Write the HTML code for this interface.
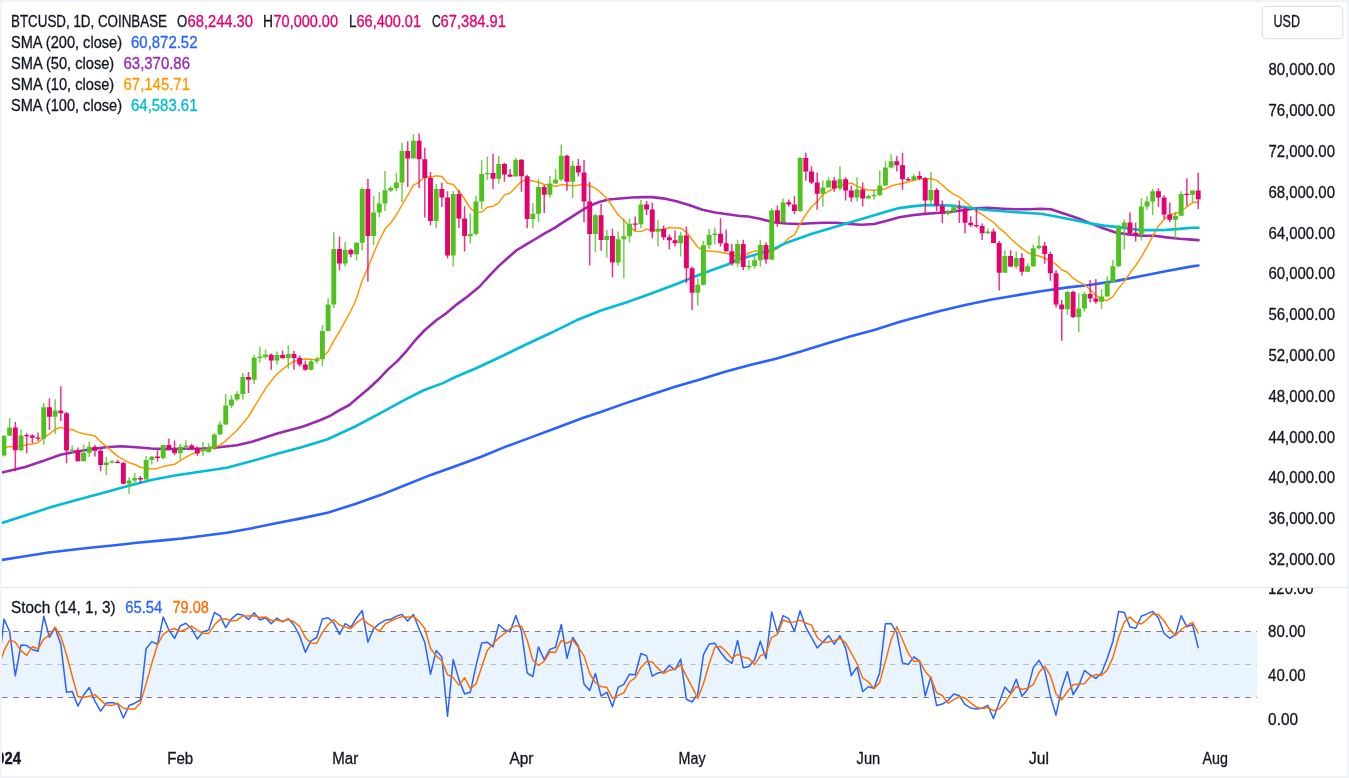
<!DOCTYPE html>
<html><head><meta charset="utf-8"><title>BTCUSD</title>
<style>
html,body{margin:0;padding:0;background:#fff;overflow:hidden}
#wrap{position:relative;width:1349px;height:778px;overflow:hidden;background:#fff;box-sizing:border-box;border:2px solid #f0f3fa}
#wrap svg{left:-2px!important;top:-2px!important}
</style></head><body><div id="wrap">
<svg width="1349" height="778" viewBox="0 0 1349 778" style="position:absolute;left:0;top:0">
<defs><clipPath id="c1"><rect x="2" y="2" width="1255" height="585"/></clipPath><clipPath id="c2"><rect x="2" y="588" width="1255" height="152"/></clipPath><clipPath id="c3"><rect x="2" y="740" width="1345" height="36"/></clipPath><clipPath id="c4"><rect x="1257" y="588" width="90" height="152"/></clipPath></defs>
<rect x="2" y="631.5" width="1255" height="66" fill="#e9f4fe"/>
<line x1="2" x2="1257" y1="631.5" y2="631.5" stroke="#787b86" stroke-width="1.1" stroke-dasharray="5.6 5.5"/>
<line x1="2" x2="1257" y1="664.5" y2="664.5" stroke="#b8bcc6" stroke-width="1.1" stroke-dasharray="5.6 5.5"/>
<line x1="2" x2="1257" y1="697.5" y2="697.5" stroke="#787b86" stroke-width="1.1" stroke-dasharray="5.6 5.5"/>
<rect x="2" y="587" width="1345" height="1" fill="#e0e3eb"/>
<polyline points="2.0,559.9 25.2,556.2 47.0,552.8 70.0,550.0 92.1,547.5 115.0,545.2 137.0,542.8 160.0,540.6 182.0,538.5 201.6,536.0 226.8,532.8 252.0,528.2 277.2,523.1 302.4,518.1 327.6,512.8 355.2,503.9 380.4,495.1 405.6,485.0 430.8,474.9 456.0,466.1 481.2,456.8 506.4,446.4 531.6,437.1 556.8,427.8 582.0,418.2 600.0,412.3 625.0,403.4 650.0,395.0 675.0,386.8 700.0,379.5 725.0,371.8 750.0,365.0 775.0,359.0 800.0,351.8 825.0,344.0 850.0,336.6 875.0,329.7 900.0,321.8 925.0,314.9 940.0,311.1 965.2,305.1 990.4,299.8 1015.6,295.5 1040.8,291.2 1066.0,287.6 1091.2,284.7 1116.4,280.9 1141.6,276.0 1166.8,271.0 1192.0,266.4 1198.5,265.5" fill="none" stroke="#2962ff" stroke-width="2.6" stroke-linejoin="round" stroke-linecap="round" clip-path="url(#c1)"/>
<polyline points="2.0,472.5 25.2,466.9 42.8,461.1 60.5,454.8 75.6,451.8 90.7,449.3 105.8,447.3 121.0,446.3 136.1,447.3 151.2,448.5 166.3,449.1 181.5,448.8 201.6,448.5 216.7,447.5 236.9,445.3 252.0,441.7 277.2,433.4 302.4,426.8 320.0,420.3 330.0,415.9 339.6,410.1 349.3,405.0 358.9,396.8 368.5,388.8 378.2,379.8 387.8,369.6 397.5,360.9 407.1,350.3 414.8,340.7 424.4,330.5 436.0,320.5 445.6,313.7 457.2,304.1 468.8,295.5 479.6,286.5 489.3,275.8 498.9,265.9 508.5,257.3 516.3,250.5 525.9,244.7 535.5,239.0 545.2,233.2 554.8,227.8 562.5,222.6 570.2,217.8 577.9,212.9 585.6,208.1 593.3,204.3 601.0,201.4 608.8,199.5 620.3,198.5 631.9,197.5 643.4,197.1 652.0,197.1 664.6,198.6 677.2,201.4 689.8,205.2 702.4,209.7 715.0,212.5 727.6,214.3 740.0,216.0 748.2,216.5 760.8,219.0 773.4,222.3 786.0,223.5 798.6,224.0 811.2,223.3 823.8,222.8 836.4,222.8 849.0,224.0 861.6,224.8 874.2,224.0 886.8,220.7 899.4,217.2 912.0,215.2 924.6,213.9 937.2,213.0 949.8,212.0 962.4,210.2 975.0,208.4 987.6,207.8 1003.0,208.7 1015.6,209.2 1028.2,209.2 1040.8,208.7 1050.9,209.2 1066.0,214.3 1078.6,218.5 1091.2,223.6 1103.8,228.6 1116.4,232.7 1129.0,234.4 1141.6,235.7 1154.2,235.7 1166.8,237.4 1179.4,238.7 1192.0,239.6 1198.5,240.1" fill="none" stroke="#9c27b0" stroke-width="2.6" stroke-linejoin="round" stroke-linecap="round" clip-path="url(#c1)"/>
<polyline points="-1.7,448.3 4.0,447.7 9.6,446.5 15.3,446.8 21.0,446.2 26.7,444.6 32.4,444.1 38.1,442.8 43.8,437.8 49.4,433.9 55.1,429.5 60.8,427.3 66.5,429.5 72.2,429.5 77.9,432.1 83.6,433.8 89.3,434.7 94.9,435.9 100.6,441.7 106.3,446.3 112.0,451.4 117.7,456.4 123.4,459.7 129.1,462.8 134.8,464.5 140.4,467.2 146.1,468.5 151.8,469.1 157.5,468.4 163.2,466.6 168.9,465.3 174.6,464.3 180.2,460.6 185.9,457.1 191.6,454.2 197.3,451.5 203.0,450.5 208.7,449.6 214.4,447.2 220.1,445.2 225.7,440.9 231.4,435.5 237.1,430.2 242.8,423.4 248.5,416.5 254.2,407.0 259.9,397.7 265.6,388.4 271.2,381.0 276.9,374.1 282.6,369.3 288.3,364.8 294.0,361.2 299.7,359.9 305.4,358.9 311.0,359.3 316.7,359.5 322.4,357.1 328.1,351.5 333.8,340.9 339.5,331.5 345.2,321.1 350.9,310.7 356.5,298.5 362.2,280.5 367.9,267.9 373.6,253.3 379.3,240.5 385.0,229.1 390.7,223.0 396.4,214.9 402.0,205.0 407.7,195.4 413.4,185.2 419.1,182.3 424.8,176.4 430.5,177.3 436.2,175.8 441.8,176.6 447.5,183.3 453.2,184.4 458.9,191.2 464.6,199.0 470.3,208.3 476.0,212.5 481.7,212.1 487.3,207.3 493.0,206.3 498.7,202.9 504.4,194.9 510.1,193.1 515.8,187.2 521.5,181.3 527.2,179.8 532.8,181.0 538.5,182.3 544.2,184.5 549.9,184.9 555.6,186.5 561.3,184.6 567.0,185.1 572.7,185.7 578.3,185.3 584.0,183.6 589.7,185.6 595.4,188.4 601.1,193.0 606.8,198.2 612.5,206.5 618.1,214.8 623.8,220.3 629.5,226.1 635.2,231.3 640.9,231.6 646.6,229.1 652.3,230.8 658.0,229.6 663.6,229.7 669.3,227.5 675.0,227.9 680.7,227.9 686.4,232.3 692.1,239.2 697.8,247.2 703.5,250.8 709.1,251.1 714.8,251.6 720.5,252.2 726.2,253.3 731.9,255.3 737.6,256.1 743.3,256.0 748.9,253.3 754.6,250.9 760.3,250.9 766.0,253.3 771.7,251.0 777.4,248.9 783.1,244.0 788.8,238.1 794.4,234.8 800.1,223.9 805.8,214.5 811.5,206.7 817.2,201.6 822.9,194.4 828.6,191.4 834.3,188.0 839.9,185.7 845.6,184.3 851.3,183.0 857.0,186.1 862.7,188.8 868.4,190.1 874.1,190.3 879.7,190.1 885.4,188.8 891.1,186.1 896.8,184.6 902.5,183.5 908.2,181.8 913.9,180.5 919.6,178.4 925.2,178.9 930.9,178.4 936.6,180.4 942.3,185.0 948.0,190.1 953.7,194.3 959.4,197.2 965.1,201.5 970.7,206.4 976.4,211.1 982.1,214.4 987.8,218.5 993.5,222.3 999.2,228.2 1004.9,232.6 1010.5,238.5 1016.2,243.5 1021.9,248.4 1027.6,252.5 1033.3,254.7 1039.0,256.0 1044.7,258.2 1050.4,261.2 1056.0,264.4 1061.7,269.7 1067.4,272.3 1073.1,278.2 1078.8,281.9 1084.5,284.7 1090.2,289.7 1095.9,295.3 1101.5,299.5 1107.2,300.4 1112.9,296.6 1118.6,288.4 1124.3,281.4 1130.0,273.0 1135.7,265.5 1141.4,256.8 1147.0,247.1 1152.7,236.1 1158.4,226.2 1164.1,219.4 1169.8,214.8 1175.5,213.6 1181.2,210.8 1186.8,207.0 1192.5,202.6 1198.2,201.9" fill="none" stroke="#ff9800" stroke-width="1.5" stroke-linejoin="round" stroke-linecap="round" clip-path="url(#c1)"/>
<polyline points="2.0,522.9 25.2,515.6 50.4,507.3 75.6,500.2 100.8,493.4 126.0,486.4 151.2,480.0 176.4,475.3 201.6,471.5 226.8,467.7 252.0,461.1 277.2,453.8 302.4,447.0 327.6,439.2 340.0,433.5 355.2,426.5 380.4,413.2 405.6,399.3 423.2,390.5 443.4,382.9 455.4,377.0 475.6,368.5 500.8,356.8 526.0,344.5 551.2,332.8 576.4,320.3 601.6,310.2 626.8,302.2 652.0,293.2 677.2,283.8 702.4,273.5 727.6,264.5 735.6,260.6 760.8,253.0 773.4,249.2 786.0,242.9 811.2,234.1 836.4,226.5 861.6,219.0 886.8,211.4 899.4,208.1 912.0,206.4 924.6,205.1 937.2,205.1 949.8,205.5 962.4,206.8 975.0,208.6 987.6,210.0 1003.0,211.2 1015.6,212.2 1028.2,213.0 1040.8,213.8 1053.4,216.0 1066.0,218.5 1078.6,221.1 1091.2,223.6 1103.8,225.6 1116.4,226.9 1129.0,228.6 1141.6,230.1 1154.2,230.1 1166.8,229.9 1179.4,228.9 1192.0,227.8 1198.5,227.7" fill="none" stroke="#00bcd4" stroke-width="2.6" stroke-linejoin="round" stroke-linecap="round" clip-path="url(#c1)"/>
<g clip-path="url(#c1)">
<path d="M3.95 435.5V456.4M9.64 418.3V435.8M21.01 429.4V451.3M43.76 403.1V444.8M55.13 399.3V434.0M72.19 445.6V453.3M83.57 444.5V461.3M89.26 441.4V457.1M106.32 456.7V475.3M112.00 459.9V463.6M129.06 477.2V493.7M134.75 473.0V484.1M146.12 455.9V479.5M151.81 455.9V464.5M163.19 444.8V459.0M180.25 444.1V459.5M185.93 440.3V450.3M203.00 442.1V455.7M208.68 443.3V452.3M214.37 433.3V450.3M220.06 421.3V434.9M225.74 394.0V424.8M231.43 395.2V407.9M237.12 391.2V400.9M242.80 372.9V399.8M254.18 354.7V384.0M259.87 346.5V362.8M265.55 349.6V359.3M276.93 351.6V364.7M288.30 345.4V368.8M311.05 359.3V370.5M316.74 357.0V363.4M322.42 325.1V366.5M328.11 298.3V331.0M333.80 232.2V307.9M345.17 241.9V266.5M356.54 241.9V260.4M362.23 187.5V250.5M373.61 196.0V245.4M379.29 192.1V217.2M384.98 171.0V211.1M390.67 185.9V192.1M396.35 172.8V191.0M402.04 142.7V202.1M413.41 134.3V158.6M436.16 183.9V228.3M453.22 191.3V266.5M470.28 213.2V243.4M475.97 196.0V235.3M481.66 160.2V209.1M487.35 156.6V179.8M498.72 155.8V183.6M515.78 157.8V176.6M532.84 203.2V228.3M538.53 179.0V222.2M549.90 175.9V197.9M555.59 168.9V184.1M561.28 144.6V181.3M572.65 160.9V197.9M595.40 214.0V252.2M606.77 229.7V257.5M618.15 231.6V265.5M623.83 218.5V278.6M629.52 218.5V242.4M640.89 200.1V228.3M657.96 220.2V246.4M680.70 231.8V256.4M697.76 278.6V305.6M703.45 240.8V285.6M709.14 228.7V248.7M714.83 227.6V244.4M737.57 239.8V267.5M748.95 260.3V270.0M754.63 255.7V268.8M760.32 239.8V266.5M771.70 208.3V260.3M783.07 198.6V222.3M800.13 156.9V211.7M822.88 180.4V206.6M828.57 177.3V187.5M839.94 166.2V190.6M857.00 177.3V201.4M868.37 194.3V198.6M874.06 189.7V199.8M879.75 170.5V196.3M885.44 161.3V186.3M891.12 154.2V168.5M913.87 174.2V180.4M930.93 172.1V204.0M947.99 209.4V215.3M953.68 204.5V212.5M987.80 228.6V234.0M1004.86 250.2V272.8M1016.24 251.4V268.7M1027.61 263.3V271.8M1033.30 244.8V267.1M1038.98 235.5V249.4M1067.42 290.4V314.8M1078.79 293.2V332.1M1084.48 292.0V311.7M1101.54 289.3V308.9M1107.23 276.2V296.6M1112.92 260.0V282.7M1118.60 224.8V267.2M1124.29 219.4V249.5M1141.35 198.3V240.5M1147.04 196.2V210.1M1152.72 189.0V215.2M1175.47 211.7V239.4M1181.16 191.3V215.8M1192.53 190.4V202.4" stroke="#50c21e" stroke-width="1.5" stroke-opacity="0.8" fill="none"/>
<path d="M1.50 435.7h4.9V455.6h-4.9zM7.19 427.5h4.9V435.7h-4.9zM18.56 435.4h4.9V450.3h-4.9zM41.31 407.3h4.9V438.5h-4.9zM52.68 410.4h4.9V416.7h-4.9zM69.74 449.5h4.9V450.8h-4.9zM81.12 452.7h4.9V461.3h-4.9zM86.81 446.8h4.9V452.7h-4.9zM103.87 462.4h4.9V465.1h-4.9zM109.55 461.5h4.9V462.8h-4.9zM126.61 480.4h4.9V483.7h-4.9zM132.30 478.1h4.9V480.4h-4.9zM143.68 460.1h4.9V479.5h-4.9zM149.36 456.7h4.9V460.1h-4.9zM160.74 444.9h4.9V457.9h-4.9zM177.80 446.8h4.9V453.1h-4.9zM183.48 445.4h4.9V446.9h-4.9zM200.55 449.6h4.9V450.9h-4.9zM206.23 447.0h4.9V452.3h-4.9zM211.92 434.6h4.9V447.0h-4.9zM217.61 424.6h4.9V434.6h-4.9zM223.29 405.6h4.9V424.6h-4.9zM228.98 399.6h4.9V405.6h-4.9zM234.67 394.0h4.9V399.6h-4.9zM240.35 377.0h4.9V394.0h-4.9zM251.73 357.7h4.9V379.7h-4.9zM257.42 356.6h4.9V357.9h-4.9zM263.10 354.6h4.9V356.9h-4.9zM274.48 355.0h4.9V360.5h-4.9zM285.85 354.0h4.9V358.2h-4.9zM308.60 361.2h4.9V369.7h-4.9zM314.29 359.2h4.9V361.3h-4.9zM319.97 330.9h4.9V359.3h-4.9zM325.66 304.6h4.9V330.9h-4.9zM331.35 248.9h4.9V304.6h-4.9zM342.72 250.0h4.9V263.4h-4.9zM354.09 242.8h4.9V254.3h-4.9zM359.78 189.0h4.9V242.8h-4.9zM371.16 212.4h4.9V236.1h-4.9zM376.84 203.4h4.9V212.4h-4.9zM382.53 190.3h4.9V203.4h-4.9zM388.22 188.1h4.9V190.4h-4.9zM393.90 182.5h4.9V188.2h-4.9zM399.59 150.9h4.9V182.5h-4.9zM410.96 140.7h4.9V158.6h-4.9zM433.71 189.0h4.9V220.9h-4.9zM450.77 194.1h4.9V255.4h-4.9zM467.83 233.9h4.9V236.2h-4.9zM473.52 201.5h4.9V234.0h-4.9zM479.21 174.1h4.9V201.5h-4.9zM484.90 172.9h4.9V174.2h-4.9zM496.27 164.0h4.9V178.7h-4.9zM513.33 159.8h4.9V176.6h-4.9zM530.39 213.7h4.9V219.1h-4.9zM536.08 187.1h4.9V213.7h-4.9zM547.45 183.4h4.9V194.8h-4.9zM553.14 179.5h4.9V183.4h-4.9zM558.83 155.8h4.9V179.5h-4.9zM570.20 165.8h4.9V181.7h-4.9zM592.95 215.2h4.9V234.0h-4.9zM604.32 235.9h4.9V240.1h-4.9zM615.70 239.2h4.9V262.4h-4.9zM621.38 236.2h4.9V239.2h-4.9zM627.07 223.7h4.9V236.2h-4.9zM638.44 204.4h4.9V224.3h-4.9zM655.50 228.7h4.9V231.8h-4.9zM678.25 235.6h4.9V243.3h-4.9zM695.31 284.7h4.9V292.8h-4.9zM701.00 245.2h4.9V284.7h-4.9zM706.69 234.7h4.9V245.2h-4.9zM712.38 233.6h4.9V234.9h-4.9zM735.12 244.1h4.9V263.4h-4.9zM746.50 265.9h4.9V267.2h-4.9zM752.18 260.3h4.9V266.1h-4.9zM757.87 244.9h4.9V260.3h-4.9zM769.25 210.3h4.9V259.4h-4.9zM780.62 202.4h4.9V222.3h-4.9zM797.68 158.0h4.9V210.9h-4.9zM820.43 187.5h4.9V193.8h-4.9zM826.12 180.4h4.9V187.5h-4.9zM837.49 179.3h4.9V188.6h-4.9zM854.55 189.4h4.9V197.5h-4.9zM865.92 195.9h4.9V198.6h-4.9zM871.61 194.9h4.9V196.2h-4.9zM877.30 185.5h4.9V195.1h-4.9zM882.99 167.5h4.9V185.5h-4.9zM888.67 161.3h4.9V167.5h-4.9zM911.42 176.2h4.9V180.0h-4.9zM928.48 190.1h4.9V200.6h-4.9zM945.54 211.5h4.9V213.8h-4.9zM951.23 207.3h4.9V211.5h-4.9zM985.35 231.5h4.9V233.3h-4.9zM1002.41 256.0h4.9V272.8h-4.9zM1013.79 257.9h4.9V266.4h-4.9zM1025.16 266.3h4.9V271.8h-4.9zM1030.85 248.2h4.9V266.3h-4.9zM1036.53 245.8h4.9V248.2h-4.9zM1064.97 292.1h4.9V309.3h-4.9zM1076.34 308.5h4.9V317.1h-4.9zM1082.03 294.0h4.9V308.5h-4.9zM1099.09 296.4h4.9V301.7h-4.9zM1104.78 282.4h4.9V296.4h-4.9zM1110.47 266.2h4.9V282.4h-4.9zM1116.15 226.9h4.9V266.2h-4.9zM1121.84 222.5h4.9V226.9h-4.9zM1138.90 206.4h4.9V234.2h-4.9zM1144.59 201.5h4.9V206.4h-4.9zM1150.27 191.3h4.9V201.5h-4.9zM1173.02 215.7h4.9V219.8h-4.9zM1178.71 194.1h4.9V215.7h-4.9zM1190.08 190.4h4.9V194.7h-4.9z" fill="#50c21e"/>
<path d="M15.32 422.0V471.3M26.70 433.2V453.3M32.39 434.3V443.2M38.07 432.4V440.9M49.45 398.2V430.1M60.82 386.2V420.9M66.51 412.1V463.3M77.88 447.6V461.3M94.94 445.1V456.4M100.63 448.6V471.3M117.69 459.9V463.3M123.38 461.8V484.6M140.44 475.9V483.3M157.50 450.2V461.4M168.87 438.6V449.7M174.56 440.5V455.3M191.62 444.1V449.5M197.31 446.4V455.7M248.49 371.9V392.9M271.24 353.6V369.8M282.61 350.5V358.5M293.99 351.1V369.8M299.67 355.4V366.5M305.36 360.8V370.8M339.48 236.4V270.5M350.86 248.5V257.3M367.92 179.0V281.6M407.73 141.2V187.0M419.10 133.5V188.2M424.79 147.8V217.5M430.48 172.0V225.6M441.85 182.8V207.1M447.54 191.3V258.5M458.91 190.1V228.0M464.60 206.3V251.6M493.03 153.8V189.0M504.41 162.8V181.7M510.09 168.9V176.7M521.47 158.9V191.8M527.15 174.8V228.3M544.22 185.1V212.9M566.96 154.7V190.8M578.34 158.9V176.6M584.02 160.0V222.2M589.71 182.0V265.5M601.09 204.1V250.7M612.46 228.8V277.6M635.21 216.5V230.8M646.58 201.0V214.9M652.27 202.4V238.2M663.64 225.6V240.2M669.33 234.5V249.5M675.02 230.5V246.4M686.39 226.4V283.3M692.08 266.8V310.0M720.51 218.3V246.4M726.20 229.4V251.5M731.89 244.1V265.7M743.26 239.8V270.0M766.01 242.5V263.8M777.38 205.5V227.1M788.76 199.4V206.8M794.44 196.3V214.0M805.82 152.8V180.8M811.50 166.2V183.9M817.19 172.4V209.8M834.25 177.3V191.7M845.63 177.3V200.5M851.31 185.5V201.7M862.69 182.4V206.6M896.81 156.2V171.6M902.50 153.1V189.7M908.18 177.0V180.9M919.56 171.3V180.4M925.24 177.0V213.3M936.62 188.1V211.0M942.31 200.5V223.3M959.37 200.5V223.0M965.05 207.1V233.3M970.74 216.2V227.0M976.43 208.5V227.8M982.11 223.6V240.1M993.49 228.6V243.2M999.18 240.9V290.6M1010.55 250.2V267.1M1021.92 253.2V275.6M1044.67 241.7V263.7M1050.36 251.7V280.7M1056.05 270.2V307.5M1061.73 300.1V340.7M1073.11 290.4V317.9M1090.17 280.1V302.4M1095.85 279.0V303.7M1129.98 212.4V234.8M1135.66 222.5V241.4M1158.41 188.2V207.0M1164.10 195.2V218.9M1169.79 202.4V222.0M1186.85 178.2V206.3M1198.22 172.7V209.3" stroke="#e6006e" stroke-width="1.5" stroke-opacity="0.8" fill="none"/>
<path d="M12.87 427.5h4.9V450.3h-4.9zM24.25 434.9h4.9V436.2h-4.9zM29.94 435.5h4.9V437.8h-4.9zM35.62 437.4h4.9V438.7h-4.9zM47.00 407.3h4.9V416.7h-4.9zM58.37 410.4h4.9V413.2h-4.9zM64.06 413.2h4.9V450.4h-4.9zM75.43 449.9h4.9V461.3h-4.9zM92.49 446.8h4.9V450.7h-4.9zM98.18 450.7h4.9V465.1h-4.9zM115.24 461.8h4.9V463.1h-4.9zM120.93 463.1h4.9V483.7h-4.9zM137.99 478.0h4.9V479.6h-4.9zM155.05 456.6h4.9V457.9h-4.9zM166.42 444.9h4.9V448.9h-4.9zM172.11 448.9h4.9V453.1h-4.9zM189.17 445.5h4.9V448.2h-4.9zM194.86 448.2h4.9V453.4h-4.9zM246.04 377.0h4.9V379.7h-4.9zM268.79 354.7h4.9V360.5h-4.9zM280.16 355.0h4.9V358.2h-4.9zM291.54 354.0h4.9V358.0h-4.9zM297.22 358.0h4.9V364.4h-4.9zM302.91 364.4h4.9V369.7h-4.9zM337.03 248.9h4.9V263.4h-4.9zM348.41 250.0h4.9V254.3h-4.9zM365.47 189.0h4.9V236.1h-4.9zM405.28 150.9h4.9V158.6h-4.9zM416.65 140.7h4.9V159.3h-4.9zM422.34 159.3h4.9V177.9h-4.9zM428.03 177.9h4.9V220.9h-4.9zM439.40 189.0h4.9V197.5h-4.9zM445.09 197.5h4.9V255.4h-4.9zM456.46 194.1h4.9V218.6h-4.9zM462.15 218.6h4.9V236.1h-4.9zM490.58 173.1h4.9V178.7h-4.9zM501.96 164.0h4.9V174.5h-4.9zM507.64 174.4h4.9V176.7h-4.9zM519.02 159.8h4.9V176.3h-4.9zM524.70 176.3h4.9V219.1h-4.9zM541.76 187.1h4.9V194.8h-4.9zM564.51 155.8h4.9V181.7h-4.9zM575.89 165.8h4.9V172.4h-4.9zM581.57 172.4h4.9V201.6h-4.9zM587.26 201.6h4.9V234.0h-4.9zM598.63 215.2h4.9V240.1h-4.9zM610.01 235.9h4.9V262.4h-4.9zM632.76 223.4h4.9V224.7h-4.9zM644.13 204.4h4.9V209.6h-4.9zM649.82 209.6h4.9V231.8h-4.9zM661.19 228.7h4.9V237.2h-4.9zM666.88 237.2h4.9V240.2h-4.9zM672.57 240.2h4.9V243.3h-4.9zM683.94 235.6h4.9V268.3h-4.9zM689.63 268.3h4.9V292.8h-4.9zM718.06 233.8h4.9V243.2h-4.9zM723.75 243.2h4.9V251.3h-4.9zM729.44 251.3h4.9V263.4h-4.9zM740.81 244.1h4.9V267.0h-4.9zM763.56 244.9h4.9V259.4h-4.9zM774.93 210.3h4.9V222.3h-4.9zM786.31 202.3h4.9V204.6h-4.9zM791.99 204.5h4.9V210.9h-4.9zM803.37 158.0h4.9V171.4h-4.9zM809.05 171.4h4.9V182.6h-4.9zM814.74 182.6h4.9V193.8h-4.9zM831.80 180.4h4.9V188.6h-4.9zM843.18 179.3h4.9V190.4h-4.9zM848.86 190.4h4.9V197.5h-4.9zM860.24 189.4h4.9V198.6h-4.9zM894.36 161.3h4.9V165.2h-4.9zM900.05 165.2h4.9V179.2h-4.9zM905.73 178.9h4.9V180.2h-4.9zM917.11 176.1h4.9V178.4h-4.9zM922.79 178.3h4.9V200.6h-4.9zM934.17 190.1h4.9V205.8h-4.9zM939.86 205.8h4.9V213.7h-4.9zM956.92 207.2h4.9V208.5h-4.9zM962.60 208.4h4.9V222.8h-4.9zM968.29 222.8h4.9V225.2h-4.9zM973.98 224.9h4.9V226.2h-4.9zM979.66 226.0h4.9V233.3h-4.9zM991.04 231.5h4.9V243.0h-4.9zM996.73 243.0h4.9V272.8h-4.9zM1008.10 256.0h4.9V266.4h-4.9zM1019.47 257.9h4.9V271.8h-4.9zM1042.22 245.8h4.9V254.0h-4.9zM1047.91 254.0h4.9V273.2h-4.9zM1053.60 273.2h4.9V304.6h-4.9zM1059.28 304.6h4.9V309.3h-4.9zM1070.66 292.1h4.9V317.1h-4.9zM1087.72 294.0h4.9V298.4h-4.9zM1093.40 298.4h4.9V301.7h-4.9zM1127.53 222.5h4.9V232.9h-4.9zM1133.21 232.8h4.9V234.3h-4.9zM1155.96 191.3h4.9V197.6h-4.9zM1161.65 197.6h4.9V214.5h-4.9zM1167.34 214.5h4.9V219.8h-4.9zM1184.40 193.7h4.9V195.0h-4.9zM1195.77 190.5h4.9V199.3h-4.9z" fill="#e6006e"/>
</g>
<polyline points="-1.5,669.4 4.0,619.1 9.6,631.5 15.3,675.8 21.0,644.9 26.7,645.6 32.4,649.5 38.1,651.3 43.8,616.3 49.4,637.3 55.1,627.9 60.8,644.3 66.5,692.2 72.2,691.5 77.9,706.1 83.6,695.0 89.3,687.5 94.9,701.2 100.6,711.1 106.3,703.1 112.0,702.5 117.7,704.0 123.4,718.0 129.1,705.5 134.8,703.2 140.4,700.0 146.1,648.7 151.8,641.6 157.5,644.2 163.2,617.1 168.9,630.0 174.6,638.4 180.2,625.9 185.9,623.3 191.6,628.7 197.3,639.0 203.0,631.9 208.7,629.9 214.4,612.5 220.1,615.9 225.7,627.6 231.4,618.8 237.1,614.1 242.8,614.9 248.5,619.4 254.2,612.8 259.9,620.0 265.6,617.8 271.2,623.7 276.9,618.1 282.6,621.8 288.3,618.7 294.0,625.0 299.7,635.9 305.4,652.2 311.0,640.8 316.7,637.5 322.4,618.9 328.1,617.7 333.8,622.9 339.5,634.3 345.2,623.7 350.9,627.1 356.5,618.0 362.2,610.5 367.9,642.2 373.6,628.7 379.3,623.6 385.0,620.3 390.7,619.3 396.4,616.1 402.0,614.4 407.7,621.1 413.4,614.5 419.1,628.7 424.8,642.4 430.5,674.2 436.2,650.6 441.8,656.9 447.5,716.3 453.2,659.5 458.9,679.6 464.6,694.0 470.3,692.3 476.0,665.6 481.7,643.0 487.3,642.2 493.0,646.8 498.7,624.5 504.4,629.7 510.1,631.8 515.8,615.5 521.5,631.4 527.2,673.0 532.8,676.6 538.5,646.9 544.2,659.7 549.9,649.4 555.6,647.3 561.3,624.4 567.0,658.2 572.7,637.4 578.3,646.0 584.0,684.1 589.7,690.5 595.4,673.5 601.1,696.1 606.8,692.2 612.5,706.6 618.1,687.4 623.8,684.4 629.5,674.2 635.2,674.7 640.9,653.5 646.6,655.9 652.3,676.2 658.0,672.9 663.6,672.0 669.3,665.5 675.0,669.8 680.7,659.1 686.4,699.3 692.1,702.0 697.8,693.9 703.5,654.6 709.1,644.1 714.8,643.2 720.5,652.0 726.2,659.3 731.9,663.4 737.6,640.4 743.3,667.7 748.9,666.6 754.6,659.7 760.3,641.3 766.0,658.6 771.7,611.9 777.4,632.6 783.1,615.6 788.8,618.7 794.4,631.4 800.1,610.7 805.8,627.1 811.5,637.5 817.2,647.9 822.9,642.0 828.6,635.7 834.3,644.1 839.9,635.8 845.6,647.9 851.3,675.5 857.0,667.2 862.7,691.5 868.4,686.7 874.1,688.3 879.7,672.4 885.4,623.7 891.1,623.6 896.8,632.6 902.5,662.9 908.2,664.5 913.9,656.9 919.6,661.2 925.2,696.0 930.9,676.9 936.6,705.4 942.3,704.1 948.0,700.6 953.7,694.0 959.4,695.8 965.1,704.6 970.7,707.9 976.4,709.0 982.1,708.2 987.8,705.3 993.5,718.6 999.2,702.6 1004.9,687.1 1010.5,693.2 1016.2,679.3 1021.9,696.2 1027.6,689.5 1033.3,667.6 1039.0,660.4 1044.7,670.3 1050.4,695.9 1056.0,715.2 1061.7,688.4 1067.4,671.6 1073.1,694.5 1078.8,685.5 1084.5,670.4 1090.2,675.0 1095.9,678.4 1101.5,673.0 1107.2,658.4 1112.9,641.5 1118.6,611.6 1124.3,612.4 1130.0,627.1 1135.7,628.2 1141.4,616.3 1147.0,613.9 1152.7,611.4 1158.4,617.9 1164.1,633.5 1169.8,638.3 1175.5,634.5 1181.2,615.6 1186.8,626.9 1192.5,624.6 1198.2,647.5" fill="none" stroke="#2962ff" stroke-width="1.5" stroke-linejoin="round" stroke-linecap="round" clip-path="url(#c2)"/>
<polyline points="-1.5,667.6 4.0,650.8 9.6,640.0 15.3,642.1 21.0,650.7 26.7,655.4 32.4,646.7 38.1,648.8 43.8,639.1 49.4,635.0 55.1,627.2 60.8,636.5 66.5,654.8 72.2,676.0 77.9,696.6 83.6,697.5 89.3,696.2 94.9,694.6 100.6,699.9 106.3,705.1 112.0,705.6 117.7,703.2 123.4,708.2 129.1,709.1 134.8,708.9 140.4,702.9 146.1,683.9 151.8,663.4 157.5,644.8 163.2,634.3 168.9,630.4 174.6,628.5 180.2,631.5 185.9,629.2 191.6,626.0 197.3,630.3 203.0,633.2 208.7,633.6 214.4,624.8 220.1,619.4 225.7,618.7 231.4,620.7 237.1,620.2 242.8,615.9 248.5,616.1 254.2,615.7 259.9,617.4 265.6,616.9 271.2,620.5 276.9,619.9 282.6,621.2 288.3,619.5 294.0,621.8 299.7,626.5 305.4,637.7 311.0,642.9 316.7,643.5 322.4,632.4 328.1,624.7 333.8,619.8 339.5,625.0 345.2,627.0 350.9,628.4 356.5,622.9 362.2,618.6 367.9,623.6 373.6,627.1 379.3,631.5 385.0,624.2 390.7,621.0 396.4,618.5 402.0,616.6 407.7,617.2 413.4,616.6 419.1,621.4 424.8,628.5 430.5,648.5 436.2,655.8 441.8,660.6 447.5,674.6 453.2,677.6 458.9,685.1 464.6,677.7 470.3,688.6 476.0,683.9 481.7,666.9 487.3,650.3 493.0,644.0 498.7,637.9 504.4,633.7 510.1,628.7 515.8,625.7 521.5,626.2 527.2,640.0 532.8,660.3 538.5,665.5 544.2,661.1 549.9,652.0 555.6,652.2 561.3,640.4 567.0,643.3 572.7,640.0 578.3,647.2 584.0,655.8 589.7,673.5 595.4,682.7 601.1,686.7 606.8,687.3 612.5,698.3 618.1,695.4 623.8,692.8 629.5,682.0 635.2,677.8 640.9,667.5 646.6,661.4 652.3,661.9 658.0,668.4 663.6,673.7 669.3,670.2 675.0,669.1 680.7,664.8 686.4,676.1 692.1,686.8 697.8,698.4 703.5,683.5 709.1,664.2 714.8,647.3 720.5,646.4 726.2,651.5 731.9,658.2 737.6,654.4 743.3,657.2 748.9,658.3 754.6,664.7 760.3,655.9 766.0,653.2 771.7,637.3 777.4,634.4 783.1,620.0 788.8,622.3 794.4,621.9 800.1,620.3 805.8,623.0 811.5,625.1 817.2,637.5 822.9,642.5 828.6,641.9 834.3,640.6 839.9,638.5 845.6,642.6 851.3,653.1 857.0,663.5 862.7,678.0 868.4,681.8 874.1,688.8 879.7,682.4 885.4,661.4 891.1,639.9 896.8,626.7 902.5,639.7 908.2,653.3 913.9,661.4 919.6,660.9 925.2,671.4 930.9,678.0 936.6,692.8 942.3,695.5 948.0,703.4 953.7,699.6 959.4,696.8 965.1,698.1 970.7,702.8 976.4,707.2 982.1,708.4 987.8,707.5 993.5,710.7 999.2,708.9 1004.9,702.8 1010.5,694.3 1016.2,686.5 1021.9,689.5 1027.6,688.3 1033.3,684.4 1039.0,672.5 1044.7,666.1 1050.4,675.5 1056.0,693.8 1061.7,699.8 1067.4,691.7 1073.1,684.8 1078.8,683.9 1084.5,683.5 1090.2,677.0 1095.9,674.6 1101.5,675.5 1107.2,669.9 1112.9,657.6 1118.6,637.2 1124.3,621.9 1130.0,617.0 1135.7,622.6 1141.4,623.9 1147.0,619.5 1152.7,613.9 1158.4,614.4 1164.1,620.9 1169.8,629.9 1175.5,635.4 1181.2,629.5 1186.8,625.7 1192.5,622.4 1198.2,633.0" fill="none" stroke="#ff6d00" stroke-width="1.5" stroke-linejoin="round" stroke-linecap="round" clip-path="url(#c2)"/>
<g font-family="Liberation Sans, Arial, sans-serif">
<text x="11.0" y="26.8" fill="#131722" stroke="#131722" stroke-width="0.3" font-size="15.6" text-anchor="start" textLength="156.0" lengthAdjust="spacingAndGlyphs">BTCUSD, 1D, COINBASE</text>
<text x="177.0" y="26.8" fill="#131722" stroke="#131722" stroke-width="0.3" font-size="15.6" text-anchor="start" textLength="10.2" lengthAdjust="spacingAndGlyphs">O</text>
<text x="187.5" y="26.8" fill="#e6006e" stroke="#e6006e" stroke-width="0.3" font-size="15.6" text-anchor="start" textLength="65.5" lengthAdjust="spacingAndGlyphs">68,244.30</text>
<text x="263.0" y="26.8" fill="#131722" stroke="#131722" stroke-width="0.3" font-size="15.6" text-anchor="start" textLength="10.0" lengthAdjust="spacingAndGlyphs">H</text>
<text x="273.5" y="26.8" fill="#e6006e" stroke="#e6006e" stroke-width="0.3" font-size="15.6" text-anchor="start" textLength="64.5" lengthAdjust="spacingAndGlyphs">70,000.00</text>
<text x="349.0" y="26.8" fill="#131722" stroke="#131722" stroke-width="0.3" font-size="15.6" text-anchor="start" textLength="7.5" lengthAdjust="spacingAndGlyphs">L</text>
<text x="356.5" y="26.8" fill="#e6006e" stroke="#e6006e" stroke-width="0.3" font-size="15.6" text-anchor="start" textLength="64.5" lengthAdjust="spacingAndGlyphs">66,400.01</text>
<text x="432.0" y="26.8" fill="#131722" stroke="#131722" stroke-width="0.3" font-size="15.6" text-anchor="start" textLength="8.8" lengthAdjust="spacingAndGlyphs">C</text>
<text x="440.5" y="26.8" fill="#e6006e" stroke="#e6006e" stroke-width="0.3" font-size="15.6" text-anchor="start" textLength="65.5" lengthAdjust="spacingAndGlyphs">67,384.91</text>
<text x="11.0" y="47.8" fill="#131722" stroke="#131722" stroke-width="0.3" font-size="15.6" text-anchor="start" textLength="111.0" lengthAdjust="spacingAndGlyphs">SMA (200, close)</text>
<text x="131.0" y="47.8" fill="#2962ff" stroke="#2962ff" stroke-width="0.3" font-size="15.6" text-anchor="start" textLength="66.5" lengthAdjust="spacingAndGlyphs">60,872.52</text>
<text x="11.0" y="68.8" fill="#131722" stroke="#131722" stroke-width="0.3" font-size="15.6" text-anchor="start" textLength="103.2" lengthAdjust="spacingAndGlyphs">SMA (50, close)</text>
<text x="123.5" y="68.8" fill="#9c27b0" stroke="#9c27b0" stroke-width="0.3" font-size="15.6" text-anchor="start" textLength="66.5" lengthAdjust="spacingAndGlyphs">63,370.86</text>
<text x="11.0" y="89.8" fill="#131722" stroke="#131722" stroke-width="0.3" font-size="15.6" text-anchor="start" textLength="103.2" lengthAdjust="spacingAndGlyphs">SMA (10, close)</text>
<text x="123.5" y="89.8" fill="#ff9800" stroke="#ff9800" stroke-width="0.3" font-size="15.6" text-anchor="start" textLength="66.5" lengthAdjust="spacingAndGlyphs">67,145.71</text>
<text x="11.0" y="111.0" fill="#131722" stroke="#131722" stroke-width="0.3" font-size="15.6" text-anchor="start" textLength="111.0" lengthAdjust="spacingAndGlyphs">SMA (100, close)</text>
<text x="131.0" y="111.0" fill="#00bcd4" stroke="#00bcd4" stroke-width="0.3" font-size="15.6" text-anchor="start" textLength="66.5" lengthAdjust="spacingAndGlyphs">64,583.61</text>
<text x="11.0" y="613.2" fill="#131722" stroke="#131722" stroke-width="0.3" font-size="15.6" text-anchor="start" textLength="104.7" lengthAdjust="spacingAndGlyphs">Stoch (14, 1, 3)</text>
<text x="125.3" y="613.2" fill="#2962ff" stroke="#2962ff" stroke-width="0.3" font-size="15.6" text-anchor="start" textLength="37.0" lengthAdjust="spacingAndGlyphs">65.54</text>
<text x="172.4" y="613.2" fill="#ff6d00" stroke="#ff6d00" stroke-width="0.3" font-size="15.6" text-anchor="start" textLength="36.5" lengthAdjust="spacingAndGlyphs">79.08</text>
<text x="1268.4" y="75.3" fill="#131722" stroke="#131722" stroke-width="0.3" font-size="15.6" text-anchor="start" textLength="66.6" lengthAdjust="spacingAndGlyphs">80,000.00</text>
<text x="1268.4" y="116.1" fill="#131722" stroke="#131722" stroke-width="0.3" font-size="15.6" text-anchor="start" textLength="66.6" lengthAdjust="spacingAndGlyphs">76,000.00</text>
<text x="1268.4" y="156.9" fill="#131722" stroke="#131722" stroke-width="0.3" font-size="15.6" text-anchor="start" textLength="66.6" lengthAdjust="spacingAndGlyphs">72,000.00</text>
<text x="1268.4" y="197.7" fill="#131722" stroke="#131722" stroke-width="0.3" font-size="15.6" text-anchor="start" textLength="66.6" lengthAdjust="spacingAndGlyphs">68,000.00</text>
<text x="1268.4" y="238.5" fill="#131722" stroke="#131722" stroke-width="0.3" font-size="15.6" text-anchor="start" textLength="66.6" lengthAdjust="spacingAndGlyphs">64,000.00</text>
<text x="1268.4" y="279.3" fill="#131722" stroke="#131722" stroke-width="0.3" font-size="15.6" text-anchor="start" textLength="66.6" lengthAdjust="spacingAndGlyphs">60,000.00</text>
<text x="1268.4" y="320.1" fill="#131722" stroke="#131722" stroke-width="0.3" font-size="15.6" text-anchor="start" textLength="66.6" lengthAdjust="spacingAndGlyphs">56,000.00</text>
<text x="1268.4" y="360.9" fill="#131722" stroke="#131722" stroke-width="0.3" font-size="15.6" text-anchor="start" textLength="66.6" lengthAdjust="spacingAndGlyphs">52,000.00</text>
<text x="1268.4" y="401.7" fill="#131722" stroke="#131722" stroke-width="0.3" font-size="15.6" text-anchor="start" textLength="66.6" lengthAdjust="spacingAndGlyphs">48,000.00</text>
<text x="1268.4" y="442.5" fill="#131722" stroke="#131722" stroke-width="0.3" font-size="15.6" text-anchor="start" textLength="66.6" lengthAdjust="spacingAndGlyphs">44,000.00</text>
<text x="1268.4" y="483.3" fill="#131722" stroke="#131722" stroke-width="0.3" font-size="15.6" text-anchor="start" textLength="66.6" lengthAdjust="spacingAndGlyphs">40,000.00</text>
<text x="1268.4" y="524.1" fill="#131722" stroke="#131722" stroke-width="0.3" font-size="15.6" text-anchor="start" textLength="66.6" lengthAdjust="spacingAndGlyphs">36,000.00</text>
<text x="1268.4" y="564.9" fill="#131722" stroke="#131722" stroke-width="0.3" font-size="15.6" text-anchor="start" textLength="66.6" lengthAdjust="spacingAndGlyphs">32,000.00</text>
<g clip-path="url(#c4)">
<text x="1268.1" y="593.5" fill="#131722" stroke="#131722" stroke-width="0.3" font-size="15.6" text-anchor="start" textLength="45.5" lengthAdjust="spacingAndGlyphs">120.00</text>
<text x="1268.1" y="637.2" fill="#131722" stroke="#131722" stroke-width="0.3" font-size="15.6" text-anchor="start" textLength="37.5" lengthAdjust="spacingAndGlyphs">80.00</text>
<text x="1268.1" y="681.0" fill="#131722" stroke="#131722" stroke-width="0.3" font-size="15.6" text-anchor="start" textLength="37.5" lengthAdjust="spacingAndGlyphs">40.00</text>
<text x="1268.1" y="724.7" fill="#131722" stroke="#131722" stroke-width="0.3" font-size="15.6" text-anchor="start" textLength="30.0" lengthAdjust="spacingAndGlyphs">0.00</text>
</g>
<g clip-path="url(#c3)">
<text x="4.5" y="764.0" fill="#131722" stroke="#131722" stroke-width="0.3" font-size="15.6" text-anchor="middle" textLength="33.0" lengthAdjust="spacingAndGlyphs" font-weight="bold">2024</text>
<text x="180.2" y="764.0" fill="#131722" stroke="#131722" stroke-width="0.3" font-size="15.6" text-anchor="middle" textLength="26.0" lengthAdjust="spacingAndGlyphs">Feb</text>
<text x="345.2" y="764.0" fill="#131722" stroke="#131722" stroke-width="0.3" font-size="15.6" text-anchor="middle" textLength="26.0" lengthAdjust="spacingAndGlyphs">Mar</text>
<text x="521.5" y="764.0" fill="#131722" stroke="#131722" stroke-width="0.3" font-size="15.6" text-anchor="middle" textLength="24.0" lengthAdjust="spacingAndGlyphs">Apr</text>
<text x="692.1" y="764.0" fill="#131722" stroke="#131722" stroke-width="0.3" font-size="15.6" text-anchor="middle" textLength="27.0" lengthAdjust="spacingAndGlyphs">May</text>
<text x="868.4" y="764.0" fill="#131722" stroke="#131722" stroke-width="0.3" font-size="15.6" text-anchor="middle" textLength="23.6" lengthAdjust="spacingAndGlyphs">Jun</text>
<text x="1039.0" y="764.0" fill="#131722" stroke="#131722" stroke-width="0.3" font-size="15.6" text-anchor="middle" textLength="20.0" lengthAdjust="spacingAndGlyphs">Jul</text>
<text x="1215.3" y="764.0" fill="#131722" stroke="#131722" stroke-width="0.3" font-size="15.6" text-anchor="middle" textLength="25.4" lengthAdjust="spacingAndGlyphs">Aug</text>
</g>
<rect x="1262.2" y="6.3" width="80.6" height="32.4" rx="4.5" fill="#fff" stroke="#dfe2ea" stroke-width="1.2"/>
<text x="1273.5" y="27.2" fill="#131722" stroke="#131722" stroke-width="0.3" font-size="15.6" text-anchor="start" textLength="26.5" lengthAdjust="spacingAndGlyphs">USD</text>
</g>
</svg>
</div></body></html>
